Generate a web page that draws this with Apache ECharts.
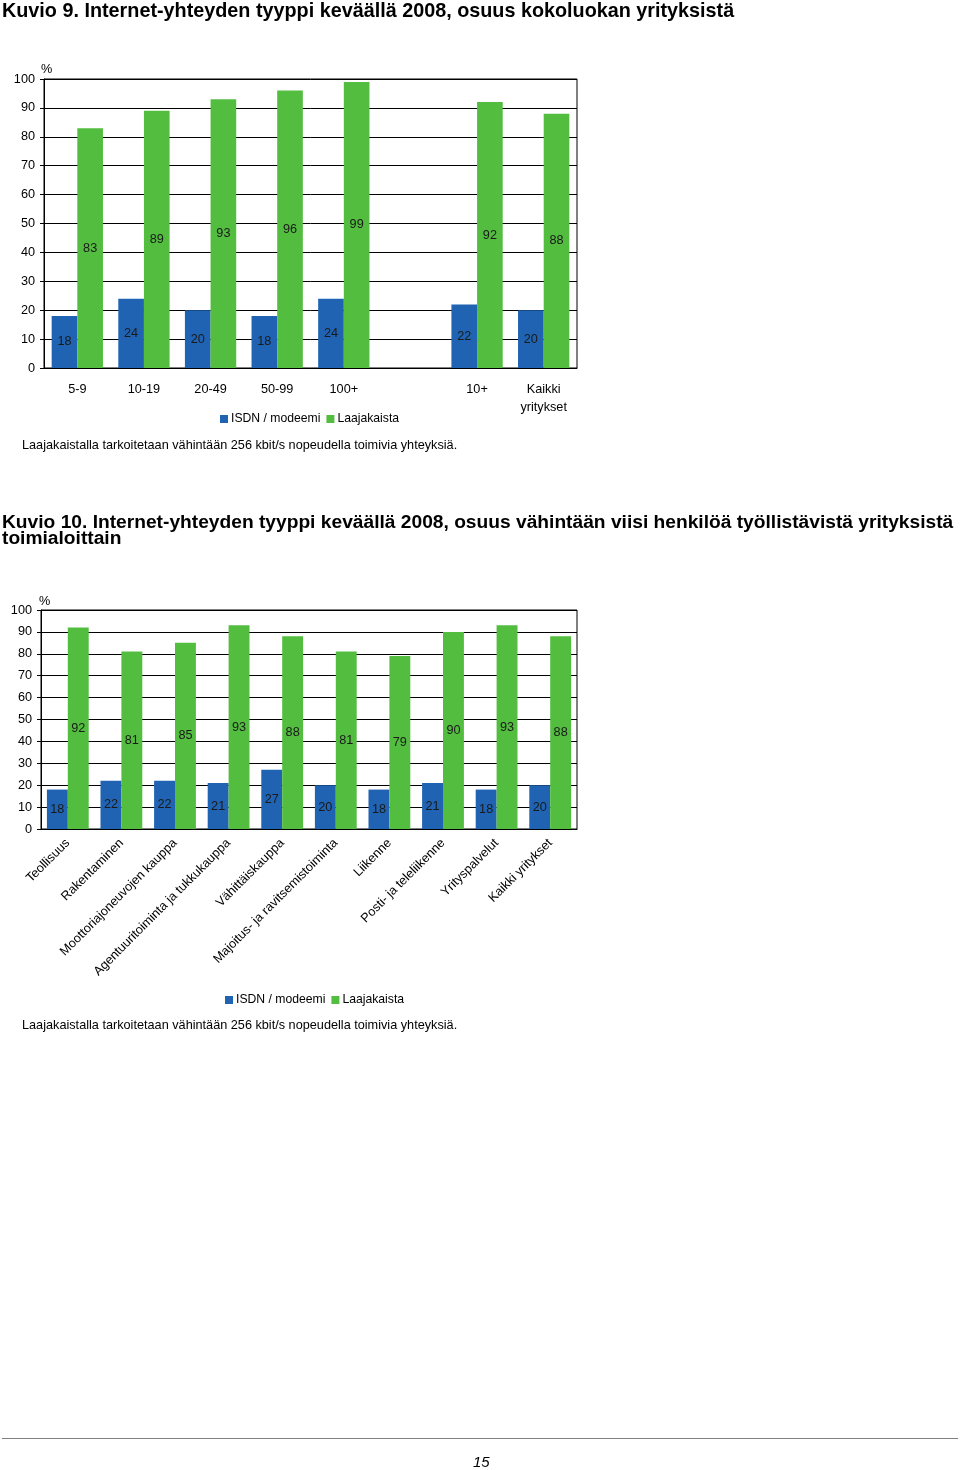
<!DOCTYPE html>
<html><head><meta charset="utf-8">
<script src="https://cdn.jsdelivr.net/npm/echarts@6/dist/echarts.min.js"></script>
<style>html,body{margin:0;padding:0;background:#fff}#c{width:960px;height:1470px}</style>
</head><body><div id="c"></div>
<script>
const cats1 = ['5-9', '10-19', '20-49', '50-99', '100+', '', '10+', 'Kaikki\nyritykset'];
const isdn1 = [18, 24, 20, 18, 24, null, 22, 20];
const laaja1 = [83, 89, 93, 96, 99, null, 92, 88];
const cats2 = ['Teollisuus', 'Rakentaminen', 'Moottoriajoneuvojen kauppa', 'Agentuuritoiminta ja tukkukauppa', 'Vähittäiskauppa', 'Majoitus- ja ravitsemistoiminta', 'Liikenne', 'Posti- ja teleliikenne', 'Yrityspalvelut', 'Kaikki yritykset'];
const isdn2 = [18, 22, 22, 21, 27, 20, 18, 21, 18, 20];
const laaja2 = [92, 81, 85, 93, 88, 81, 79, 90, 93, 88];
const yTicks = [0, 10, 20, 30, 40, 50, 60, 70, 80, 90, 100];
const seriesNames = ['ISDN / modeemi', 'Laajakaista'];
const title1 = 'Kuvio 9. Internet-yhteyden tyyppi keväällä 2008, osuus kokoluokan yrityksistä';
const title2 = 'Kuvio 10. Internet-yhteyden tyyppi keväällä 2008, osuus vähintään viisi henkilöä työllistävistä yrityksistä\ntoimialoittain';
const note = 'Laajakaistalla tarkoitetaan vähintään 256 kbit/s nopeudella toimivia yhteyksiä.';

const BLUE = '#1F63B2', GREEN = '#53BD40';
const FONT = 'Liberation Sans, Arial, sans-serif';
const FS = 12.7;
const chart = echarts.init(document.getElementById('c'), null, {renderer: 'canvas'});

function yAxis(gi) {
  return {
    gridIndex: gi, type: 'value', min: yTicks[0], max: yTicks[yTicks.length - 1], interval: 10,
    axisLine: {show: true, lineStyle: {color: '#000', width: 1}},
    axisTick: {show: true, length: 4, lineStyle: {color: '#000'}},
    axisLabel: {color: '#000', fontSize: FS, fontFamily: FONT, margin: 9},
    splitLine: {show: true, lineStyle: {color: '#000', width: 1}}
  };
}
const lbl = {show: true, position: 'inside', color: '#1a1a1a', fontSize: FS, fontFamily: FONT};

chart.setOption({
  animation: false,
  textStyle: {fontFamily: FONT},
  title: [
    {text: title1, left: 2, top: 4, padding: 0, textStyle: {fontSize: 19.8, fontWeight: 'bold', color: '#000', fontFamily: FONT, lineHeight: 16}},
    {text: title2, left: 2, top: 515, padding: 0, textStyle: {fontSize: 19.2, fontWeight: 'bold', color: '#000', fontFamily: FONT, lineHeight: 16}}
  ],
  grid: [
    {left: 44, top: 79, width: 533, height: 289, show: true, borderColor: '#000', borderWidth: 1},
    {left: 41, top: 610, width: 536, height: 219, show: true, borderColor: '#000', borderWidth: 1}
  ],
  legend: [
    {data: seriesNames, left: 215, top: 408, icon: 'rect', itemWidth: 8, itemHeight: 8, itemGap: 6,
     textStyle: {fontSize: 12.2, color: '#000', fontFamily: FONT, padding: [0, 0, 0, -2]}},
    {data: seriesNames, left: 220, top: 989, icon: 'rect', itemWidth: 8, itemHeight: 8, itemGap: 6,
     textStyle: {fontSize: 12.2, color: '#000', fontFamily: FONT, padding: [0, 0, 0, -2]}}
  ],
  xAxis: [
    {gridIndex: 0, type: 'category', data: cats1,
     axisLine: {lineStyle: {color: '#000'}}, axisTick: {length: 5, lineStyle: {color: '#000'}},
     axisLabel: {color: '#000', fontSize: FS, fontFamily: FONT, margin: 12, interval: 0, lineHeight: 18}},
    {gridIndex: 1, type: 'category', data: cats2,
     axisLine: {lineStyle: {color: '#000'}}, axisTick: {length: 5, lineStyle: {color: '#000'}},
     axisLabel: {color: '#000', fontSize: FS, fontFamily: FONT, margin: 12, interval: 0, rotate: 45}}
  ],
  yAxis: [yAxis(0), yAxis(1)],
  series: [
    {name: seriesNames[0], type: 'bar', xAxisIndex: 0, yAxisIndex: 0, data: isdn1, itemStyle: {color: BLUE}, barGap: '0%', barCategoryGap: '23%', label: lbl},
    {name: seriesNames[1], type: 'bar', xAxisIndex: 0, yAxisIndex: 0, data: laaja1, itemStyle: {color: GREEN}, barGap: '0%', barCategoryGap: '23%', label: lbl},
    {name: seriesNames[0], type: 'bar', xAxisIndex: 1, yAxisIndex: 1, data: isdn2, itemStyle: {color: BLUE}, barGap: '0%', barCategoryGap: '22%', label: lbl},
    {name: seriesNames[1], type: 'bar', xAxisIndex: 1, yAxisIndex: 1, data: laaja2, itemStyle: {color: GREEN}, barGap: '0%', barCategoryGap: '22%', label: lbl}
  ],
  graphic: [
    {type: 'text', left: 41, top: 63, style: {text: '%', fontSize: FS, fill: '#000', fontFamily: FONT}},
    {type: 'text', left: 39, top: 595, style: {text: '%', fontSize: FS, fill: '#000', fontFamily: FONT}},
    {type: 'text', left: 22, top: 439, style: {text: note, fontSize: FS, fill: '#000', fontFamily: FONT}},
    {type: 'text', left: 22, top: 1019, style: {text: note, fontSize: FS, fill: '#000', fontFamily: FONT}},
    {type: 'line', shape: {x1: 2, y1: 1438.5, x2: 958, y2: 1438.5}, style: {stroke: '#808080', lineWidth: 1}},
    {type: 'text', left: 473, top: 1455, style: {text: '15', fontSize: 15, fontStyle: 'italic', fill: '#000', fontFamily: FONT}}
  ]
});
</script></body></html>
